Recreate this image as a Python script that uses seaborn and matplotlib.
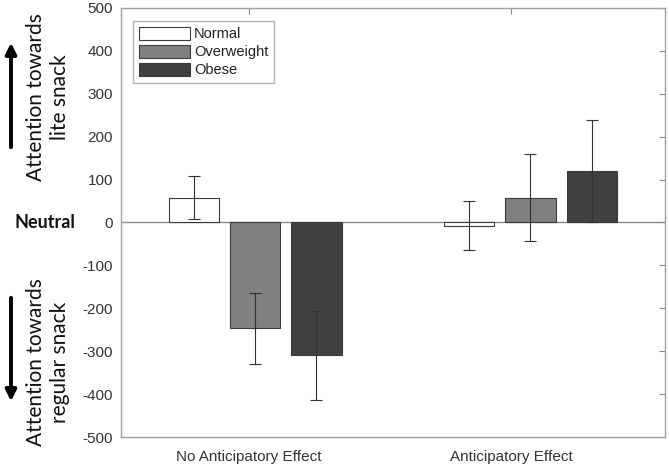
import matplotlib
matplotlib.use("Agg")
import matplotlib.pyplot as plt
import seaborn as sns
import pandas as pd

effects = ["No Anticipatory Effect", "Anticipatory Effect"]
groups = ["Normal", "Overweight", "Obese"]
normal_means = [58, -8]
overweight_means = [-247, 58]
obese_means = [-310, 119]
normal_err = [50, 57]
overweight_err = [82, 102]
obese_err = [103, 119]
yticks = list(range(-500, 501, 100))

means = [normal_means, overweight_means, obese_means]
errs = [normal_err, overweight_err, obese_err]
rows = []
for g, m in zip(groups, means):
    for e, v in zip(effects, m):
        rows.append({"effect": e, "group": g, "value": v})
df = pd.DataFrame(rows)

sns.set_theme(style="white")
plt.rcParams["font.family"] = ["Liberation Sans", "DejaVu Sans"]

fig = plt.figure(figsize=(6.69, 4.68), dpi=100)
ax = fig.add_axes([0.1816, 0.0662, 0.8124, 0.917])

palette = {"Normal": "#ffffff", "Overweight": "#808080", "Obese": "#404040"}
sns.barplot(data=df, x="effect", y="value", hue="group", order=effects,
            hue_order=groups, palette=palette, saturation=1, width=0.666,
            gap=0.18, edgecolor="#3a3a3a", linewidth=0.8, errorbar=None, ax=ax)

for cont, e in zip(ax.containers, errs):
    xs = [p.get_x() + p.get_width() / 2 for p in cont.patches]
    ys = [p.get_height() for p in cont.patches]
    ax.errorbar(xs, ys, yerr=e, fmt="none", ecolor="#333333",
                elinewidth=0.8, capsize=4, capthick=0.8, zorder=5)

ax.axhline(0, color="#8a8a8a", lw=1, zorder=0.5)
ax.set_ylim(-500, 500)
ax.set_yticks(yticks)
ax.set_yticklabels([str(t) for t in yticks])
ax.set_xlim(-0.487, 1.489)
ax.set_xticks([-0.024, 0.929])
ax.set_xticklabels(effects)
ax.set_xlabel("")
ax.set_ylabel("")
for s in ax.spines.values():
    s.set_color("#a0a0a0")
    s.set_linewidth(1)
ax.tick_params(direction="in", top=True, right=True, length=4, width=0.8,
               color="#8a8a8a", labelsize=11, labelcolor="#333333", pad=6)
ax.tick_params(axis="x", pad=9)

leg = ax.legend(loc="upper left", bbox_to_anchor=(0.021, 0.970),
                borderaxespad=0, fontsize=10.5, frameon=True, fancybox=False,
                handlelength=3.5, handleheight=1.0, labelspacing=0.25,
                handletextpad=0.3, borderpad=0.4, title=None)
leg.get_frame().set_edgecolor("#a0a0a0")
leg.get_frame().set_linewidth(1)
for t in leg.get_texts():
    t.set_color("#222222")

side_font = ["Lato", "DejaVu Sans"]
fig.text(48 / 669, 1 - 97 / 468, "Attention towards\nlite snack", rotation=90,
         ha="center", va="center", fontsize=15, color="#111111",
         multialignment="center", linespacing=1.25, family=side_font)
fig.text(48 / 669, 1 - 362 / 468, "Attention towards\nregular snack", rotation=90,
         ha="center", va="center", fontsize=15, color="#111111",
         multialignment="center", linespacing=1.25, family=side_font)
fig.text(15 / 669, 1 - 222 / 468, "Neutral", ha="left", va="center",
         fontsize=13, fontweight="bold", color="#111111", family=side_font)

ax.annotate("", xy=(11 / 669, 1 - 40 / 468), xytext=(11 / 669, 1 - 150 / 468),
            xycoords="figure fraction",
            arrowprops=dict(arrowstyle="-|>", lw=2.8, color="black",
                            mutation_scale=16))
ax.annotate("", xy=(11 / 669, 1 - 404 / 468), xytext=(11 / 669, 1 - 295 / 468),
            xycoords="figure fraction",
            arrowprops=dict(arrowstyle="-|>", lw=2.8, color="black",
                            mutation_scale=16))

fig.savefig("out.png", dpi=100)
